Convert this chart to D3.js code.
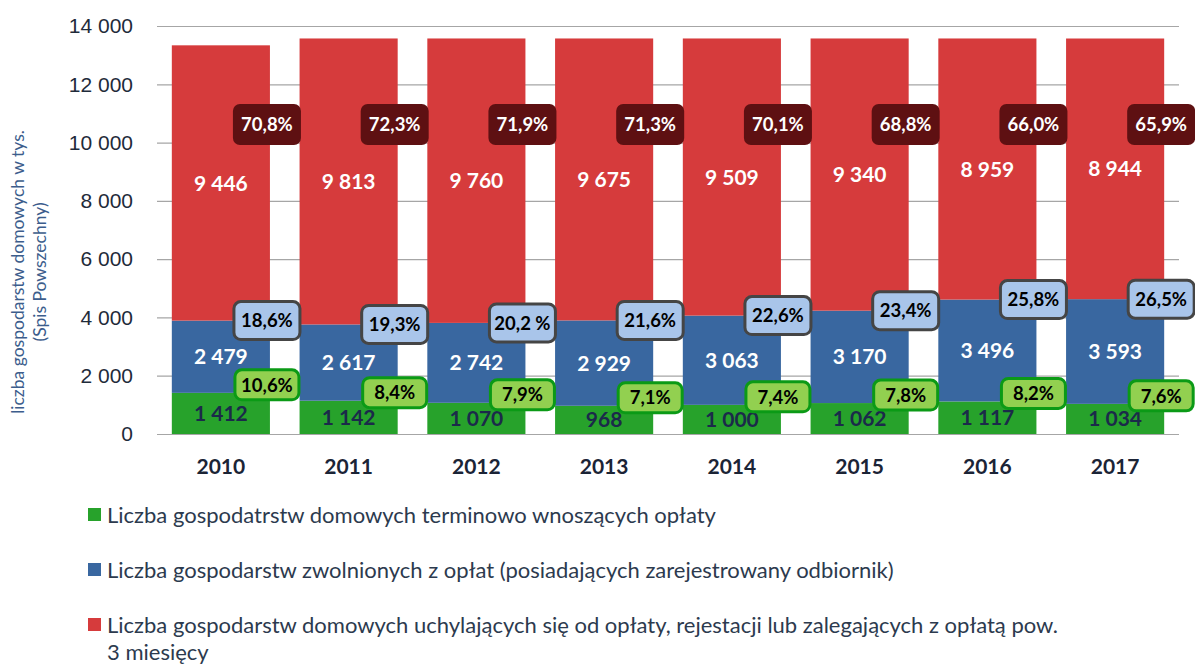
<!DOCTYPE html>
<html>
<head>
<meta charset="utf-8">
<script src="https://cdn.jsdelivr.net/npm/d3@7"></script>
<style>
  body { margin: 0; background: #fff; }
  svg { font-family: Lato, "Open Sans", sans-serif; }
</style>
</head>
<body>
<div id="container"></div>
<script>
// data (thousands of households)
const years = ["2010", "2011", "2012", "2013", "2014", "2015", "2016", "2017"];
const onTime = [1412, 1142, 1070, 968, 1000, 1062, 1117, 1034];
const exempt = [2479, 2617, 2742, 2929, 3063, 3170, 3496, 3593];
const evading = [9446, 9813, 9760, 9675, 9509, 9340, 8959, 8944];
const pctOnTime = ["10,6%", "8,4%", "7,9%", "7,1%", "7,4%", "7,8%", "8,2%", "7,6%"];
const pctExempt = ["18,6%", "19,3%", "20,2 %", "21,6%", "22,6%", "23,4%", "25,8%", "26,5%"];
const pctEvading = ["70,8%", "72,3%", "71,9%", "71,3%", "70,1%", "68,8%", "66,0%", "65,9%"];
const yTicks = [0, 2000, 4000, 6000, 8000, 10000, 12000, 14000];
const legendLabels = [
  ["Liczba gospodatrstw domowych terminowo wnoszących opłaty"],
  ["Liczba gospodarstw zwolnionych z opłat (posiadających zarejestrowany odbiornik)"],
  ["Liczba gospodarstw domowych uchylających się od opłaty, rejestacji lub zalegających z opłatą pow.", "3 miesięcy"]
];

const width = 1195, height = 664;
const colors = ["#27a22b", "#3967a0", "#d63b3c"];
const keys = ["onTime", "exempt", "evading"];

const pl = d3.formatLocale({decimal: ",", thousands: "\u00a0", grouping: [3], currency: ["", " zł"]});
const fmt = pl.format(",d");

const rows = years.map((yr, i) => ({
  year: yr, onTime: onTime[i], exempt: exempt[i], evading: evading[i],
  pOn: pctOnTime[i], pEx: pctExempt[i], pEv: pctEvading[i]
}));

const svg = d3.select("#container").append("svg")
  .attr("width", width).attr("height", height);

const x = d3.scaleBand().domain(years).range([157, 1179]).paddingInner(0.232).paddingOuter(0.116);
const y = d3.scaleLinear().domain([0, 14000]).range([434, 26]);

// gridlines + tick labels
const yAxis = svg.append("g").attr("transform", "translate(157,0)")
  .call(d3.axisLeft(y).tickValues(yTicks).tickSize(-1022).tickFormat(d => fmt(d)).tickPadding(24));
yAxis.select(".domain").remove();
yAxis.selectAll(".tick line").attr("stroke", "#a6a6a6").attr("stroke-width", 1.2);
yAxis.selectAll(".tick text").attr("fill", "#1f2b3a").style("font-size", "21px");

// y title
const yt = svg.append("text").attr("transform", "translate(24,272) rotate(-90)")
  .attr("text-anchor", "middle").attr("fill", "#3c5d8c").style("font-size", "17.5px");
yt.append("tspan").attr("x", 0).attr("dy", 0).text("liczba gospodarstw domowych w tys.");
yt.append("tspan").attr("x", 0).attr("dy", 22).text("(Spis Powszechny)");

// stacked bars
const series = d3.stack().keys(keys)(rows);
const layer = svg.append("g").selectAll("g").data(series).join("g")
  .attr("fill", (d, i) => colors[i]);
layer.selectAll("rect").data(d => d).join("rect")
  .attr("x", d => x(d.data.year))
  .attr("width", x.bandwidth())
  .attr("y", d => y(d[1]))
  .attr("height", d => y(d[0]) - y(d[1]));

// value labels in segment centers
const valColors = ["#1b2a4a", "#ffffff", "#ffffff"];
series.forEach((s, si) => {
  svg.append("g").selectAll("text").data(s).join("text")
    .attr("x", d => x(d.data.year) + x.bandwidth() / 2)
    .attr("y", d => y((d[0] + d[1]) / 2))
    .attr("dy", "0.36em")
    .attr("text-anchor", "middle")
    .attr("fill", valColors[si])
    .style("font-size", "21px").style("font-weight", "bold")
    .text(d => fmt(d[1] - d[0]));
});

// percentage callouts
function callout(cls, getY, getText, w, h, fill, stroke, sw, txtFill) {
  const g = svg.append("g").selectAll("g").data(rows).join("g")
    .attr("class", cls)
    .attr("transform", d => `translate(${x(d.year) + x.bandwidth() - 3},${getY(d)})`);
  g.append("rect")
    .attr("x", -w / 2).attr("y", -h / 2).attr("width", w).attr("height", h)
    .attr("rx", 7).attr("fill", fill)
    .attr("stroke", stroke).attr("stroke-width", sw);
  g.append("text")
    .attr("text-anchor", "middle").attr("dy", "0.36em")
    .attr("fill", txtFill)
    .style("font-size", "18.5px").style("font-weight", "bold")
    .text(getText);
}
callout("pev", d => y(10620), d => d.pEv, 68, 41, "#5e1012", "none", 0, "#ffffff");
callout("pex", d => y(d.onTime + d.exempt), d => d.pEx, 66, 38, "#a9c5ea", "#454545", 3, "#000000");
callout("pon", d => y(d.onTime) - 8, d => d.pOn, 64, 30, "#92d050", "#0b9a16", 3, "#000000");

// year labels
svg.append("g").selectAll("text").data(years).join("text")
  .attr("x", d => x(d) + x.bandwidth() / 2)
  .attr("y", 466).attr("dy", "0.36em")
  .attr("text-anchor", "middle").attr("fill", "#1b2436")
  .style("font-size", "21px").style("font-weight", "bold")
  .text(d => d);

// legend
const leg = svg.append("g").selectAll("g").data(legendLabels).join("g")
  .attr("transform", (d, i) => `translate(88,${515 + i * 55})`);
leg.append("rect").attr("x", 0).attr("y", -7).attr("width", 13).attr("height", 13)
  .attr("fill", (d, i) => colors[i]);
leg.each(function(lines) {
  const t = d3.select(this).append("text").attr("fill", "#2c3a4e").style("font-size", "22px");
  lines.forEach((ln, j) => {
    t.append("tspan").attr("x", 19).attr("y", j * 27).attr("dy", "0.35em").text(ln);
  });
});
</script>
</body>
</html>
